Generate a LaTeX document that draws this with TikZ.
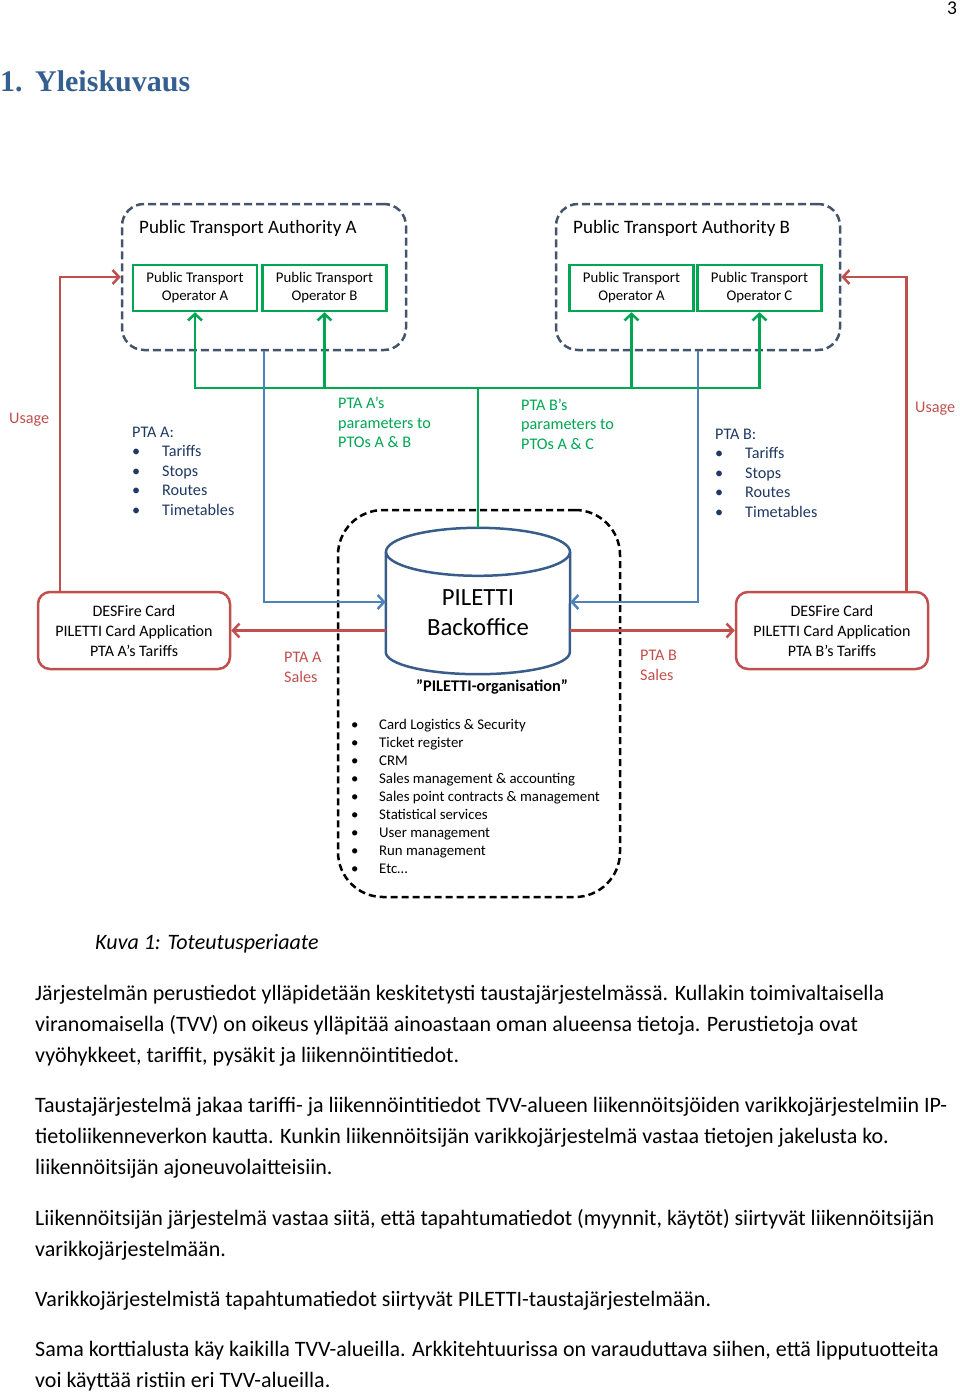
\documentclass[tikz,border=0pt]{standalone}
\usepackage{fontspec}
\setmainfont{Carlito}
\newfontfamily\headingFont{Liberation Serif}
\usetikzlibrary{arrows.meta}
\definecolor{ptaDash}{RGB}{68,84,106}
\definecolor{ptoGreen}{RGB}{0,166,81}
\definecolor{usageRed}{RGB}{192,80,77}
\definecolor{linkBlue}{RGB}{79,129,189}
\definecolor{cylBlue}{RGB}{56,93,138}
\definecolor{headBlue}{RGB}{54,95,145}
\definecolor{listNavy}{RGB}{31,56,100}
\newcommand{\fontAt}[2]{\fontsize{#1}{#2}\selectfont}
\newcommand{\bulletItem}[2]{\makebox[#1][l]{\textbullet}#2}
\newcommand{\ptaList}[1]{%%
  PTA #1:\\
  \bulletItem{30pt}{Tariffs}\\
  \bulletItem{30pt}{Stops}\\
  \bulletItem{30pt}{Routes}\\
  \bulletItem{30pt}{Timetables}%%
}
\newcommand{\backofficeCylinder}{%%
  %% The sides and the bottom of the cylinder.
  \draw[cylStyle] (bo.north west) -- (bo.south west)
    arc[start angle=180,end angle=0,x radius=92,y radius=22] -- (bo.north east);
  %% The top of the cylinder.
  \draw[cylStyle] (bo.north) ellipse[x radius=92,y radius=24];
}

\begin{document}
\begin{tikzpicture}[x=1pt,y=-1pt,%%
  ptaStyle/.style={draw=ptaDash,line width=2.5pt,dash pattern=on 8pt off 4pt,rounded corners=22pt,minimum width=284pt,minimum height=146pt},%%
  ptoStyle/.style={draw=ptoGreen,line width=2.5pt,minimum width=124pt,minimum height=46pt,inner sep=0pt,align=center,font=\fontAt{14.8}{18}},%%
  cardStyle/.style={draw=usageRed,line width=2.5pt,rounded corners=12pt,minimum width=192pt,minimum height=77pt,inner sep=0pt,align=center,font=\fontAt{16}{20}},%%
  orgStyle/.style={draw=black,line width=2.5pt,dash pattern=on 7pt off 4pt,rounded corners=45pt,minimum width=282pt,minimum height=387pt},%%
  cylStyle/.style={draw=cylBlue,line width=2.5pt},%%
  textStyle/.style={inner sep=0pt,anchor=west,align=left},%%
  labelStyle/.style={textStyle,font=\fontAt{16.2}{19.5}},%%
  tipStyle/.style={-{Straight Barb[length=6.5pt,width=14pt]}},%%
  greenLine/.style={draw=ptoGreen,line width=2.5pt},%%
  blueLine/.style={draw=linkBlue,line width=2.5pt,tipStyle},%%
  redLine/.style={draw=usageRed,line width=2.5pt,tipStyle},%%
  bodyStyle/.style={textStyle,font=\fontAt{22}{31}}
]
\useasboundingbox (0,0) rectangle (960,1395);
%%
%% Page number and heading.
\node[inner sep=0pt,font=\fontAt{19.5}{24}] (pageNo) at (952,8) {3};
\node[textStyle,text=headBlue,font=\headingFont\bfseries\fontAt{30}{36}] (heading) at (0,81) {\makebox[35pt][l]{1.}Yleiskuvaus};
%%
%% The two authorities with their operators.
\node[ptaStyle] (ptaA) at (264,277) {};
\node[textStyle,font=\fontAt{19}{22}] (ptaAtitle) at (139,228) {Public Transport Authority A};
\node[ptoStyle] (ptoAA) at (195,288) {Public Transport\\Operator A};
\node[ptoStyle] (ptoAB) at (324.5,288) {Public Transport\\Operator B};
\node[ptaStyle] (ptaB) at (698,277) {};
\node[textStyle,font=\fontAt{19}{22}] (ptaBtitle) at (573,228) {Public Transport Authority B};
\node[ptoStyle] (ptoBA) at (631.5,288) {Public Transport\\Operator A};
\node[ptoStyle] (ptoBC) at (759.5,288) {Public Transport\\Operator C};
%%
%% The cards.
\node[cardStyle] (desA) at (134,630.5) {DESFire Card\\PILETTI Card Application\\PTA A’s Tariffs};
\node[cardStyle] (desB) at (832,630.5) {DESFire Card\\PILETTI Card Application\\PTA B’s Tariffs};
%%
%% The PILETTI organisation and its backoffice.
\node[orgStyle] (org) at (479,703.5) {};
\node[inner sep=0pt,minimum width=184pt,minimum height=100pt] (bo) at (478,602) {};
\backofficeCylinder
\node[inner sep=0pt,align=center,font=\fontAt{24.7}{30}] (boLabel) at (478,613) {PILETTI\\Backoffice};
\node[inner sep=0pt,font=\bfseries\fontAt{16.3}{18}] (orgTitle) at (492,687) {”PILETTI-organisation”};
\node[textStyle,font=\fontAt{14.8}{17.9}] (orgList) at (351,796.5) {%%
  \bulletItem{28pt}{Card Logistics \& Security}\\
  \bulletItem{28pt}{Ticket register}\\
  \bulletItem{28pt}{CRM}\\
  \bulletItem{28pt}{Sales management \& accounting}\\
  \bulletItem{28pt}{Sales point contracts \& management}\\
  \bulletItem{28pt}{Statistical services}\\
  \bulletItem{28pt}{User management}\\
  \bulletItem{28pt}{Run management}\\
  \bulletItem{28pt}{Etc…}};
%%
%% Labels beside the connectors.
\node[labelStyle,text=usageRed] (usageA) at (9,420) {Usage};
\node[labelStyle,text=usageRed] (usageB) at (915,409) {Usage};
\node[labelStyle,text=listNavy] (listA) at (132,471) {\ptaList{A}};
\node[labelStyle,text=listNavy] (listB) at (715,473) {\ptaList{B}};
\node[labelStyle,text=ptoGreen] (paramA) at (338,422.5) {PTA A’s\\parameters to\\PTOs A \& B};
\node[labelStyle,text=ptoGreen] (paramB) at (521,424) {PTA B’s\\parameters to\\PTOs A \& C};
\node[labelStyle,text=usageRed,font=\fontAt{16.2}{20}] (salesA) at (284,667) {PTA A\\Sales};
\node[labelStyle,text=usageRed,font=\fontAt{16.2}{20}] (salesB) at (640,665.5) {PTA B\\Sales};
%%
%% Parameters from the backoffice to the operators.
\coordinate (boTop) at (478,528);
\coordinate (greenBus) at (478,388);
\draw[greenLine] (boTop) -- (greenBus);
\foreach \pto in {ptoAA,ptoAB,ptoBA,ptoBC}
  \draw[greenLine,tipStyle] (greenBus) -| (\pto.south);
%% Authority data to the backoffice.
\draw[blueLine] (ptaA.south) |- (bo.west);
\draw[blueLine] (ptaB.south) |- (bo.east);
%% Sales to the cards, usage to the authorities.
\draw[redLine] (bo.west |- desA.east) -- (desA.east);
\draw[redLine] (bo.east |- desB.west) -- (desB.west);
\draw[redLine] ([xshift=23pt]desA.north west) |- (ptaA.west);
\draw[redLine] ([xshift=-23pt]desB.north east) |- (ptaB.east);
%%
%% Caption and body text.
\node[textStyle,font=\itshape\fontAt{22}{24}] (caption) at (95,944) {Kuva 1: Toteutusperiaate};
\node[bodyStyle] (para1) at (35,1026) {Järjestelmän perustiedot ylläpidetään keskitetysti taustajärjestelmässä. Kullakin toimivaltaisella\\viranomaisella (TVV) on oikeus ylläpitää ainoastaan oman alueensa tietoja. Perustietoja ovat\\vyöhykkeet, tariffit, pysäkit ja liikennöintitiedot.};
\node[bodyStyle] (para2) at (35,1138) {Taustajärjestelmä jakaa tariffi- ja liikennöintitiedot TVV-alueen liikennöitsjöiden varikkojärjestelmiin IP-\\tietoliikenneverkon kautta. Kunkin liikennöitsijän varikkojärjestelmä vastaa tietojen jakelusta ko.\\liikennöitsijän ajoneuvolaitteisiin.};
\node[bodyStyle] (para3) at (35,1234.5) {Liikennöitsijän järjestelmä vastaa siitä, että tapahtumatiedot (myynnit, käytöt) siirtyvät liikennöitsijän\\varikkojärjestelmään.};
\node[bodyStyle] (para4) at (35,1301) {Varikkojärjestelmistä tapahtumatiedot siirtyvät PILETTI-taustajärjestelmään.};
\node[bodyStyle] (para5) at (35,1366.5) {Sama korttialusta käy kaikilla TVV-alueilla. Arkkitehtuurissa on varauduttava siihen, että lipputuotteita\\voi käyttää ristiin eri TVV-alueilla.};
\end{tikzpicture}
\end{document}
